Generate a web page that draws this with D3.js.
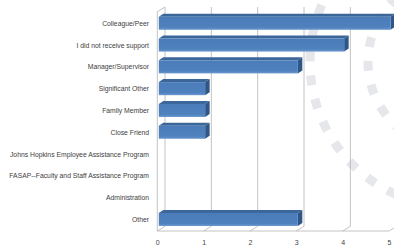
<!DOCTYPE html>
<html>
<head>
<meta charset="utf-8">
<script src="https://cdn.jsdelivr.net/npm/d3@7"></script>
<style>
  body { margin: 0; background: #fff; }
  svg { display: block; }
</style>
</head>
<body>
<script>
// Width and height
var w = 394;
var h = 251;

var categories = ["Colleague/Peer", "I did not receive support", "Manager/Supervisor",
  "Significant Other", "Family Member", "Close Friend",
  "Johns Hopkins Employee Assistance Program", "FASAP--Faculty and Staff Assistance Program",
  "Administration", "Other"];
var values = [5, 4, 3, 1, 1, 1, 0, 0, 0, 3];
var tickValues = [0, 1, 2, 3, 4, 5];

// 3D depth of the walls and of the bars
var wallDx = 7.7, wallDy = -4.7;
var barDx = 4.5, barDy = -3;
var barShift = 1.5;

var svg = d3.select("body")
            .append("svg")
            .attr("width", w)
            .attr("height", h);

var x = d3.scaleLinear().domain([0, 5]).range([157.3, 389]);
var y = d3.scaleBand().domain(categories).range([11.7, 231])
          .paddingInner(0.4).paddingOuter(0.23);
var floorY = 231;
var topY = 11.7;

var defs = svg.append("defs");
var grad = defs.append("linearGradient").attr("id", "front")
               .attr("x1", 0).attr("y1", 0).attr("x2", 0).attr("y2", 1);
grad.append("stop").attr("offset", "0").attr("stop-color", "#4a7cba");
grad.append("stop").attr("offset", "0.8").attr("stop-color", "#4f81bd");
grad.append("stop").attr("offset", "1").attr("stop-color", "#6b98cf");

// decorative dashed arcs in the background
svg.selectAll("circle.deco")
   .data([145, 87])
   .enter()
   .append("circle")
   .attr("class", "deco")
   .attr("cx", 455)
   .attr("cy", 62)
   .attr("r", function(d) { return d; })
   .attr("fill", "none")
   .attr("stroke", "#e6e7eb")
   .attr("stroke-width", 9)
   .attr("stroke-dasharray", "10 14");

// back wall gridlines
var grid = svg.append("g").attr("stroke", "#b4b4b4").attr("stroke-width", 0.8).attr("fill", "none");
grid.selectAll("path.grid")
    .data(tickValues)
    .enter()
    .append("path")
    .attr("d", function(d) {
        var fx = x(d);
        return "M" + fx + "," + floorY + "L" + (fx + wallDx) + "," + (floorY + wallDy) +
               "L" + (fx + wallDx) + "," + (topY + wallDy);
    });
// left wall
grid.append("path")
    .attr("d", "M" + x(0) + "," + floorY + "L" + x(0) + "," + topY +
               "L" + (x(0) + wallDx) + "," + (topY + wallDy));
// floor front edge
grid.append("path")
    .attr("d", "M" + x(0) + "," + floorY + "L" + x(5) + "," + floorY);

// bars
var data = categories.map(function(c, i) { return { cat: c, v: values[i] }; })
                     .filter(function(d) { return d.v > 0; });
var bars = svg.selectAll("g.bar")
   .data(data)
   .enter()
   .append("g")
   .attr("class", "bar");

bars.append("path")
    .attr("fill", "#3b6699")
    .attr("d", function(d) {
        var x0 = x(0) + barShift, x1 = x(d.v) + barShift, y0 = y(d.cat);
        return "M" + x0 + "," + y0 + "L" + (x0 + barDx) + "," + (y0 + barDy) +
               "L" + (x1 + barDx) + "," + (y0 + barDy) + "L" + x1 + "," + y0 + "Z";
    });
bars.append("path")
    .attr("fill", "#2e5687")
    .attr("d", function(d) {
        var x1 = x(d.v) + barShift, y0 = y(d.cat), y1 = y0 + y.bandwidth();
        return "M" + x1 + "," + y0 + "L" + (x1 + barDx) + "," + (y0 + barDy) +
               "L" + (x1 + barDx) + "," + (y1 + barDy) + "L" + x1 + "," + y1 + "Z";
    });
bars.append("rect")
    .attr("x", x(0) + barShift)
    .attr("y", function(d) { return y(d.cat); })
    .attr("width", function(d) { return x(d.v) - x(0); })
    .attr("height", y.bandwidth())
    .attr("fill", "url(#front)");

// category labels
svg.selectAll("text.cat")
   .data(categories)
   .enter()
   .append("text")
   .attr("class", "cat")
   .text(function(d) { return d; })
   .attr("x", 149)
   .attr("y", function(d) { return y(d) + y.bandwidth() / 2 + 2.5; })
   .attr("font-family", "Liberation Sans, sans-serif")
   .attr("font-size", "6.8px")
   .attr("fill", "#404040")
   .attr("text-anchor", "end");

// x axis labels
var axis = svg.append("g")
   .attr("transform", "translate(0," + floorY + ")")
   .call(d3.axisBottom(x).tickValues(tickValues).tickSize(0).tickPadding(9)
           .tickFormat(d3.format("d")));
axis.select(".domain").remove();
axis.selectAll("text")
    .attr("font-family", "Liberation Sans, sans-serif")
    .attr("font-size", "7px")
    .attr("fill", "#404040");
</script>
</body>
</html>
